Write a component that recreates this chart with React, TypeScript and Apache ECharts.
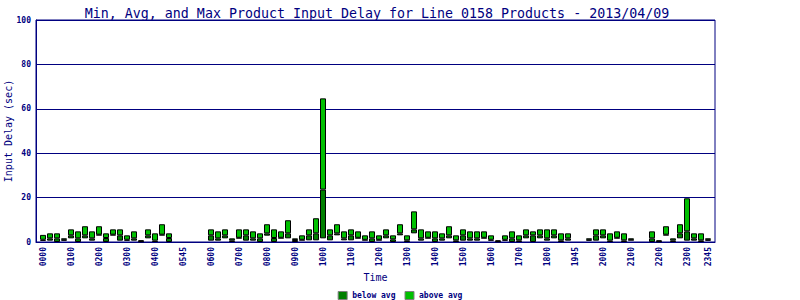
import React, { useEffect, useRef } from "react";
import * as echarts from "echarts";

// 15-minute slots 0000 .. 2345
const slotTimes: string[] = [];
for (let h = 0; h < 24; h++) {
  for (let m = 0; m < 60; m += 15) {
    slotTimes.push(String(h).padStart(2, "0") + String(m).padStart(2, "0"));
  }
}

const labelSlots = [0, 4, 8, 12, 16, 20, 24, 28, 32, 36, 40, 44, 48, 52, 56, 60, 64, 68, 72, 76, 80, 84, 88, 92, 95];
const labelTexts = [
  "0000", "0100", "0200", "0300", "0400", "0545", "0600", "0700", "0800", "0900",
  "1000", "1100", "1200", "1300", "1400", "1500", "1600", "1700", "1800", "1945",
  "2000", "2100", "2200", "2300", "2345",
];

const yTicks = [0, 20, 40, 60, 80, 100];

const minVals: (number | null)[] = [
  0.5, 0.6, 0, 0.6, 1.65, 0, 1.65, 0.6, 3.0, 0, 3.0, 0.6, 0.6, 0.6, 0, 1.65,
  0, 3.0, 0, null, null, null, null, null, 0.6, 0.6, 1.65, 0, 1.65, 0.6, 0.6, 0,
  2.85, 0, 1.65, 1.65, 0, 0.75, 0.75, 0.75, 1.65, 0.75, 3.0, 0.75, 0.75, 1.65, 0.75, 0,
  0.75, 1.65, 0, 3.0, 0, 3.9, 0.6, 1.65, 0, 0.6, 1.65, 0, 0.6, 0.6, 0.6, 1.65,
  0.6, 0, 0.6, 0, 0, 1.65, 0, 1.65, 0.6, 1.65, 0, 0.6, null, null, 0.6, 0.6,
  1.65, 0, 1.65, 0, 0.75, null, null, 0, 0, 3.0, 0, 1.65, 0.6, 0.6, 0, 0.6,
];
const avgVals: (number | null)[] = [
  1.0, 1.65, 1.65, 1.0, 3.0, 1.65, 3.0, 1.65, 3.3, 1.8, 3.3, 3.0, 1.0, 1.65, 0.3, 3.0,
  0.6, 3.3, 1.8, null, null, null, null, null, 3.0, 1.65, 3.0, 0.75, 1.9, 3.0, 1.65, 1.65,
  3.9, 1.8, 1.9, 3.9, 0.9, 1.0, 3.0, 3.9, 23.6, 3.0, 3.9, 1.65, 3.0, 1.9, 1.0, 1.65,
  1.0, 3.0, 1.2, 3.9, 0.75, 5.7, 1.65, 1.9, 1.65, 1.65, 3.0, 0.75, 3.0, 1.65, 1.65, 1.9,
  1.0, 0.3, 1.0, 1.65, 0.75, 3.0, 3.0, 3.0, 1.65, 3.0, 0.75, 1.65, null, null, 1.0, 3.0,
  3.0, 0.6, 1.9, 0.75, 1.0, null, null, 1.65, 0.3, 3.3, 0.75, 3.9, 4.8, 1.65, 0.75, 1.0,
];
const maxVals: (number | null)[] = [
  3.2, 3.9, 3.9, 1.65, 5.7, 4.8, 7.1, 4.8, 7.1, 3.9, 5.7, 5.7, 3.0, 4.8, 0.8, 5.7,
  3.9, 8.0, 3.9, null, null, null, null, null, 5.7, 4.8, 5.7, 1.65, 5.7, 5.7, 4.8, 3.9,
  8.0, 5.7, 4.8, 9.8, 1.65, 3.0, 5.7, 10.7, 64.7, 5.7, 8.0, 4.8, 5.7, 4.8, 3.0, 4.8,
  3.0, 5.7, 3.0, 8.0, 3.0, 13.8, 5.7, 4.8, 4.8, 3.9, 7.1, 3.0, 5.7, 4.8, 4.8, 4.8,
  3.0, 0.75, 3.0, 4.8, 3.0, 5.7, 4.8, 5.7, 5.7, 5.7, 3.9, 3.9, null, null, 1.65, 5.7,
  5.7, 3.9, 4.8, 3.9, 1.65, null, null, 4.8, 0.75, 7.1, 1.65, 8.0, 19.7, 3.9, 3.9, 1.65,
];

const NAVY = "#000080";
const MONO = "'DejaVu Sans Mono', 'Liberation Mono', monospace";

export default function App() {
  const ref = useRef<HTMLDivElement>(null);

  useEffect(() => {
    if (!ref.current) return;
    const chart = echarts.init(ref.current, undefined, { renderer: "svg" });

    const labelMap = new Map<number, string>();
    labelSlots.forEach((s, i) => labelMap.set(s, labelTexts[i]));

    // pad one empty category on each side (chart leaves half a slot extra)
    const cats = ["", ...slotTimes, ""];
    const pad = (arr: (number | null)[]) => [null, ...arr, null];

    const base = minVals.map((v) => (v == null ? null : v));
    const below = minVals.map((v, i) =>
      v == null || avgVals[i] == null ? null : +((avgVals[i] as number) - v).toFixed(3)
    );
    const above = maxVals.map((v, i) =>
      v == null || avgVals[i] == null ? null : +(v - (avgVals[i] as number)).toFixed(3)
    );

    chart.setOption({
      animation: false,
      backgroundColor: "#ffffff",
      title: {
        text: "Min, Avg, and Max Product Input Delay for Line 0158 Products - 2013/04/09",
        left: 372,
        textAlign: "center",
        top: 2,
        textStyle: { fontFamily: MONO, fontSize: 13.3, fontWeight: "normal", color: NAVY },
      },
      legend: {
        data: ["below avg", "above avg"],
        bottom: 0,
        padding: 0,
        left: "center",
        icon: "rect",
        itemWidth: 9,
        itemHeight: 8,
        itemGap: 9,
        itemStyle: { borderColor: "#808080", borderWidth: 1 },
        textStyle: { fontFamily: MONO, fontSize: 8, fontWeight: "bold", color: NAVY },
      },
      grid: {
        left: 36,
        right: 85,
        top: 20,
        bottom: 58,
        containLabel: false,
        outerBoundsMode: "none",
        show: true,
        borderColor: NAVY,
        borderWidth: 1,
        backgroundColor: "transparent",
      },
      xAxis: {
        type: "category",
        data: cats,
        boundaryGap: false,
        name: "Time",
        nameLocation: "middle",
        nameGap: 30,
        nameMoveOverlap: false,
        nameTextStyle: { fontFamily: MONO, fontSize: 10, color: NAVY },
        axisLine: { show: true, lineStyle: { color: NAVY, width: 1 } },
        axisTick: { show: false },
        splitLine: { show: false },
        axisLabel: {
          rotate: 90,
          margin: 5,
          interval: (index: number) => labelMap.has(index - 1),
          formatter: (_v: string, index: number) => labelMap.get(index - 1) ?? "",
          fontFamily: MONO,
          fontSize: 8,
          fontWeight: "bold",
          color: NAVY,
        },
      },
      yAxis: {
        type: "value",
        min: yTicks[0],
        max: yTicks[yTicks.length - 1],
        interval: 20,
        name: "Input Delay (sec)",
        nameLocation: "middle",
        nameRotate: 90,
        nameGap: 23,
        nameMoveOverlap: false,
        nameTextStyle: { fontFamily: MONO, fontSize: 10, color: NAVY },
        axisLine: { show: true, lineStyle: { color: NAVY, width: 1 } },
        axisTick: { show: false },
        splitLine: { show: true, lineStyle: { color: NAVY, width: 1 } },
        axisLabel: {
          margin: 5,
          fontFamily: MONO,
          fontSize: 8,
          fontWeight: "bold",
          color: NAVY,
        },
      },
      series: [
        {
          name: "base",
          type: "bar",
          stack: "d",
          barWidth: 6,
          silent: true,
          data: pad(base),
          itemStyle: { color: "rgba(0,0,0,0)", borderWidth: 0 },
        },
        {
          name: "below avg",
          type: "bar",
          stack: "d",
          barWidth: 6,
          data: pad(below),
          itemStyle: { color: "#008000", borderColor: "#000000", borderWidth: 1 },
        },
        {
          name: "above avg",
          type: "bar",
          stack: "d",
          barWidth: 6,
          data: pad(above),
          itemStyle: { color: "#00C000", borderColor: "#000000", borderWidth: 1 },
        },
      ],
    });

    return () => chart.dispose();
  }, []);

  return (
    <div
      ref={ref}
      style={{ position: "fixed", left: 0, top: 0, width: 800, height: 300 }}
    />
  );
}
